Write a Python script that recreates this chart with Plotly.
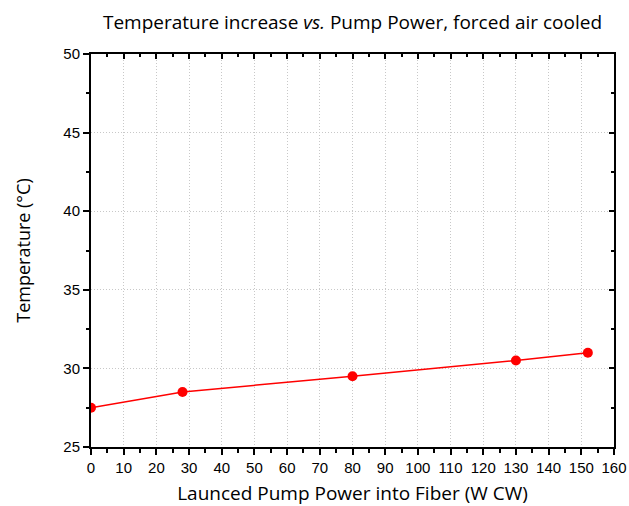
import plotly.graph_objects as go

power = [0, 28, 80, 130, 152]
temperature = [27.5, 28.5, 29.5, 30.5, 31.0]

title_font = "Open Sans"
tick_font = "Liberation Sans"

fig = go.Figure()
fig.add_trace(go.Scatter(x=power, y=temperature, mode="lines+markers",
                         line=dict(color="#ff0000", width=1.5),
                         marker=dict(color="#ff0000", size=10),
                         showlegend=False))
fig.add_trace(go.Scatter(x=[None], y=[None], xaxis="x2", yaxis="y2", showlegend=False))

common = dict(showline=True, linecolor="black", linewidth=2, zeroline=False, automargin=False)
grid = dict(showgrid=True, gridcolor="#c8c8c8", griddash="1px,2px", gridwidth=1)
fig.update_layout(
    width=629, height=506,
    margin=dict(l=91, r=15, t=54, b=59),
    paper_bgcolor="white", plot_bgcolor="white",
    title=dict(text="Temperature increase <i>vs.</i> Pump Power, forced air cooled",
               xref="paper", x=0.5, xanchor="center", y=1 - 22 / 506, yanchor="middle", automargin=False,
               font=dict(family=title_font, size=19, color="black")),
    xaxis=dict(range=[0, 160], tick0=0, dtick=10, ticks="outside", ticklen=6, tickwidth=1.5,
               tickcolor="black", **grid,
               minor=dict(dtick=5, ticks="outside", ticklen=4, tickwidth=1.5, tickcolor="black", showgrid=False),
               tickfont=dict(family=tick_font, size=15, color="black"),
               title=dict(text="Launced Pump Power into Fiber (W CW)",
                          font=dict(family=title_font, size=19, color="black"), standoff=15),
               **common),
    yaxis=dict(range=[25, 50], tick0=25, dtick=5, ticks="outside", ticklen=6, tickwidth=1.5,
               tickcolor="black", **grid,
               minor=dict(dtick=2.5, ticks="outside", ticklen=3, tickwidth=1.5, tickcolor="black", showgrid=False),
               tickfont=dict(family=tick_font, size=15, color="black"),
               title=dict(text="Temperature (°C)",
                          font=dict(family=title_font, size=18, color="black"), standoff=28),
               **common),
    xaxis2=dict(range=[0, 160], overlaying="x", side="top", anchor="y", tick0=0, dtick=10,
                ticks="inside", ticklen=5, tickwidth=1.5, tickcolor="black", showticklabels=False,
                showgrid=False, minor=dict(dtick=5, ticks="inside", ticklen=3, tickwidth=1.5, tickcolor="black"),
                **common),
    yaxis2=dict(range=[25, 50], overlaying="y", side="right", anchor="x", tick0=25, dtick=5,
                ticks="inside", ticklen=5, tickwidth=1.5, tickcolor="black", showticklabels=False,
                showgrid=False, minor=dict(dtick=2.5, ticks="inside", ticklen=3, tickwidth=1.5, tickcolor="black"),
                **common),
)
fig.write_html("out.html", config={"displayModeBar": False},
               post_script="document.body.style.margin='0';document.body.style.overflow='hidden';")
